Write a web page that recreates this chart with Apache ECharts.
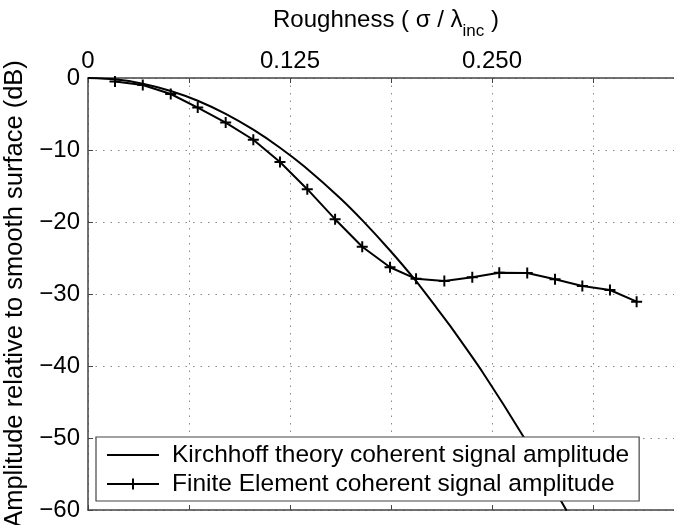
<!DOCTYPE html>
<html>
<head>
<meta charset="utf-8">
<script src="https://cdn.jsdelivr.net/npm/echarts@6/dist/echarts.min.js"></script>
<style>
  html, body { margin: 0; padding: 0; background: #fff; }
  #chart { width: 674px; height: 525px; }
</style>
</head>
<body>
<div id="chart"></div>
<script>
// roughness sigma / lambda_inc
const kirchhoffX = [0, 0.0167, 0.0339, 0.0512, 0.0679, 0.0852, 0.1023, 0.1188, 0.1339, 0.1559, 0.1704, 0.1869, 0.2024, 0.2158, 0.2240, 0.2446, 0.2694, 0.2962]
const kirchhoffDb = [0, -0.19, -0.79, -1.8, -3.16, -4.98, -7.18, -9.68, -12.3, -16.67, -19.92, -23.96, -28.05, -31.95, -34.4, -41.0, -49.8, -60.1]

const feX = [0.0167, 0.0339, 0.0512, 0.0679, 0.0852, 0.1023, 0.1188, 0.1357, 0.1529, 0.1697, 0.1869, 0.2030, 0.2205, 0.2378, 0.2545, 0.2718, 0.2890, 0.3059, 0.3230, 0.3395]
const feDb = [-0.49, -0.97, -2.22, -4.1, -6.19, -8.58, -11.67, -15.44, -19.61, -23.44, -26.28, -27.89, -28.19, -27.68, -27.04, -27.08, -27.96, -28.89, -29.44, -31.07]

const xTickLabels = [0, 0.125, 0.25]

const seriesNames = ['Kirchhoff theory coherent signal amplitude', 'Finite Element coherent signal amplitude']

const plus = 'path://M0,4.1H10V5.9H0Z M4.1,0H5.9V10H4.1Z'
const font = 'Liberation Sans, Arial, Helvetica, sans-serif'

const zip = (xs, ys) => xs.map((x, i) => [x, ys[i]])

const gridLine = {
	show: true,
	lineStyle: { color: '#8a8a8a', width: 1, type: [1.5, 6] }
}

const options = {
	animation: false,
	backgroundColor: '#fff',
	textStyle: { fontFamily: font },
	title: {
		left: 268,
		top: -5,
		text: '{a|Roughness ( σ / λ}{s|inc}{a| )}',
		textStyle: {
			fontWeight: 'normal',
			rich: {
				a: { fontSize: 24, fontWeight: 'normal', color: '#000', fontFamily: font, lineHeight: 40, verticalAlign: 'middle' },
				s: { fontSize: 17, fontWeight: 'normal', color: '#000', fontFamily: font, lineHeight: 17, verticalAlign: 'bottom' }
			}
		}
	},
	grid: { left: 88, top: 78, right: -20, bottom: 15, outerBoundsMode: 'none' },
	legend: {
		orient: 'vertical',
		left: 96,
		top: 437,
		data: seriesNames,
		itemWidth: 52,
		itemHeight: 14,
		itemGap: 3,
		padding: [5, 10, 4, 10],
		borderColor: '#444',
		borderWidth: 1.2,
		backgroundColor: '#fff',
		selectedMode: false,
		textStyle: { fontSize: 24.5, color: '#000', fontFamily: font, lineHeight: 26, padding: [0, 0, 0, 8] }
	},
	xAxis: [
		{
			type: 'value',
			position: 'top',
			min: 0,
			max: 0.375,
			interval: 0.0625,
			axisLine: { show: true, onZero: false, lineStyle: { color: '#444', width: 1.5 } },
			axisTick: { show: true, inside: true, length: 5, lineStyle: { color: '#444' } },
			axisLabel: {
				fontSize: 24,
				color: '#000',
				margin: 5,
				formatter: (v) => {
					const hit = xTickLabels.find((t) => Math.abs(t - v) < 1e-9)
					if (hit === undefined) return ''
					return hit === 0 ? '0' : hit.toFixed(3)
				}
			},
			splitLine: gridLine
		},
		{
			type: 'value',
			position: 'bottom',
			min: 0,
			max: 0.375,
			interval: 0.0625,
			axisLine: { show: true, onZero: false, lineStyle: { color: '#444', width: 1.5 } },
			axisTick: { show: true, inside: true, length: 5, lineStyle: { color: '#444' } },
			axisLabel: { show: false },
			splitLine: { show: false }
		}
	],
	yAxis: {
		type: 'value',
		min: -60,
		max: 0,
		interval: 10,
		name: 'Amplitude relative to smooth surface (dB)',
		nameLocation: 'middle',
		nameGap: 55,
		nameTextStyle: { fontSize: 25.5, color: '#000', fontFamily: font },
		axisLine: { show: true, onZero: false, lineStyle: { color: '#444', width: 1.5 } },
		axisTick: { show: true, inside: true, length: 5, lineStyle: { color: '#444' } },
		axisLabel: {
			fontSize: 24,
			color: '#000',
			margin: 8,
			formatter: (v) => String(v).replace('-', '\u2212')
		},
		splitLine: gridLine
	},
	series: [
		{
			name: seriesNames[0],
			type: 'line',
			xAxisIndex: 0,
			data: zip(kirchhoffX, kirchhoffDb),
			smooth: 0.25,
			showSymbol: false,
			symbol: 'circle',
			itemStyle: { color: 'transparent' },
			lineStyle: { color: '#000', width: 2 },
			z: 3
		},
		{
			name: seriesNames[1],
			type: 'line',
			xAxisIndex: 0,
			data: zip(feX, feDb),
			symbol: plus,
			symbolSize: 11,
			itemStyle: { color: '#000' },
			lineStyle: { color: '#000', width: 2 },
			z: 4
		}
	]
}

echarts.init(document.getElementById('chart'), null, { renderer: 'canvas' }).setOption(options)
</script>
</body>
</html>
